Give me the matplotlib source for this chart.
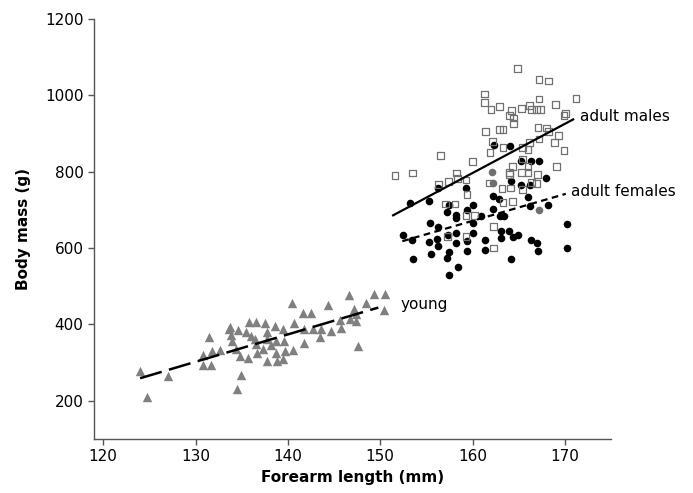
import numpy as np
import matplotlib
matplotlib.use('Agg')
import matplotlib.pyplot as plt

# young: forearm length (mm), body mass (g)
young_x = [124.0, 124.7, 127.0, 131.5, 130.8, 130.8, 131.7, 131.8, 132.7, 133.6, 133.8, 133.9,
           134.6, 135.5, 135.8, 136.6, 137.5, 134.4, 134.8, 135.7, 136.4, 136.6, 136.7, 134.9,
           134.5, 137.7, 137.3, 137.7, 140.4, 141.6, 142.5, 144.4, 146.6, 148.5, 149.3, 150.5,
           150.4, 147.2, 147.4, 146.7, 147.4, 145.6, 145.8, 144.7, 143.6, 143.5, 142.7, 141.8,
           141.7, 140.7, 140.6, 139.7, 139.5, 138.8, 138.7, 139.6, 139.5, 138.6, 137.7, 138.7,
           147.6, 136.0, 138.2, 133.7]
young_y = [278, 211, 265, 367, 319, 293, 293, 330, 332, 389, 371, 357,
           385, 379, 406, 406, 403, 335, 317, 313, 361, 348, 326, 268,
           230, 379, 335, 304, 457, 431, 431, 452, 476, 457, 479, 480,
           438, 441, 426, 415, 409, 411, 390, 383, 387, 368, 387, 387,
           352, 403, 333, 330, 309, 304, 325, 357, 387, 396, 361, 357,
           344, 370, 347, 392]

# adult males
male_x = [161.3, 161.3, 161.4, 156.5, 160.0, 153.5, 151.6, 158.3, 164.9, 167.2, 168.2, 171.2,
          162.0, 162.9, 164.2, 164.0, 164.4, 164.4, 165.3, 166.2, 166.4, 166.9, 167.4, 167.2,
          169.0, 169.9, 170.1, 162.9, 163.3, 167.1, 168.0, 168.2, 169.3, 168.9, 167.2, 166.2,
          165.4, 163.3, 162.2, 161.9, 166.0, 169.9, 165.4, 166.0, 164.3, 169.1, 165.3, 164.0,
          156.3, 157.4, 158.4, 159.3, 159.4, 157.1, 158.1, 159.3, 160.2, 157.3, 159.3, 161.8,
          164.0, 166.0, 167.0, 166.4, 166.9, 163.2, 164.1, 165.4, 163.3, 164.3, 162.3, 162.3]
male_y = [1003, 981, 905, 842, 827, 796, 790, 796, 1070, 1042, 1037, 992,
          962, 970, 960, 946, 940, 925, 966, 972, 962, 962, 962, 990,
          975, 946, 953, 911, 911, 915, 914, 905, 894, 876, 885, 876,
          864, 862, 879, 850, 857, 855, 833, 814, 814, 814, 798, 798,
          766, 773, 781, 778, 740, 715, 715, 686, 686, 631, 631, 770,
          792, 798, 792, 772, 768, 755, 757, 753, 720, 722, 657, 600]

# adult females
female_x = [162.3, 164.1, 165.2, 166.3, 167.2, 153.2, 155.3, 156.3, 159.3, 157.5, 157.2, 158.2,
            158.2, 159.4, 160.1, 160.9, 155.4, 156.3, 152.5, 153.4, 155.3, 156.1, 156.3, 157.3,
            158.2, 158.2, 159.4, 160.1, 160.1, 159.4, 161.3, 161.3, 155.5, 157.4, 157.2, 153.5,
            158.4, 157.4, 164.2, 165.3, 166.2, 168.0, 162.2, 162.9, 166.0, 162.2, 166.2, 168.2,
            163.0, 163.4, 170.2, 163.1, 164.0, 163.1, 164.4, 164.9, 166.3, 167.0, 167.1, 170.2,
            164.2]
female_y = [870, 866, 827, 827, 827, 718, 724, 757, 757, 713, 693, 687,
            679, 700, 713, 683, 666, 655, 635, 620, 615, 624, 605, 635,
            640, 614, 618, 666, 638, 592, 622, 594, 585, 589, 574, 572,
            551, 529, 774, 766, 766, 783, 737, 727, 734, 702, 711, 713,
            683, 683, 664, 644, 644, 627, 628, 633, 622, 614, 593, 600,
            572]
# females partly hidden behind male squares (print shows them grey)
female_grey_x = [162.1, 162.2, 167.2]
female_grey_y = [798, 770, 699]

# fitted lines: slope, intercept, x start, x end
young_fit = (7.17, -630.0, 124.0, 149.8)
male_fit = (12.87, -1263.0, 151.4, 170.9)
female_fit = (7.0, -449.0, 152.4, 170.1)


def fit_line(ax, fit, **kw):
    slope, intercept, x0, x1 = fit
    xs = np.array([x0, x1])
    ax.plot(xs, slope * xs + intercept, **kw)


fig = plt.figure(figsize=(6.93, 4.93), dpi=100)
ax = fig.add_axes([0.1356, 0.1095, 0.7461, 0.8525])

ax.scatter(young_x, young_y, marker='^', s=46, color='#808080', linewidths=0, zorder=2)
ax.scatter(female_x, female_y, marker='o', s=30, color='black', linewidths=0, zorder=2)
ax.scatter(female_grey_x, female_grey_y, marker='o', s=30, color='#707070', linewidths=0, zorder=2)
ax.scatter(male_x, male_y, marker='s', s=24, facecolors='none', edgecolors='#707070',
           linewidths=0.9, zorder=3)

fit_line(ax, young_fit, color='black', lw=1.8, dashes=(9, 3), zorder=4)
fit_line(ax, male_fit, color='black', lw=1.6, zorder=4)
fit_line(ax, female_fit, color='black', lw=1.6, dashes=(3, 2), zorder=4)

ax.text(171.6, 944, 'adult males', fontsize=11, va='center', ha='left')
ax.text(170.7, 748, 'adult females', fontsize=11, va='center', ha='left')
ax.text(152.2, 452, 'young', fontsize=11, va='center', ha='left')

ax.set_xlim(119, 175)
ax.set_ylim(100, 1200)
ax.set_xticks([120, 130, 140, 150, 160, 170])
ax.set_yticks([200, 400, 600, 800, 1000, 1200])
ax.set_xlabel('Forearm length (mm)', fontsize=11, fontweight='bold', labelpad=4)
ax.set_ylabel('Body mass (g)', fontsize=11, fontweight='bold', labelpad=10)

for side in ['top', 'right']:
    ax.spines[side].set_visible(False)
for side in ['left', 'bottom']:
    ax.spines[side].set_color('#555555')
    ax.spines[side].set_linewidth(1.0)
ax.tick_params(colors='#555555', labelcolor='black', labelsize=11, length=4, width=1)

fig.savefig('out.png', dpi=100)
